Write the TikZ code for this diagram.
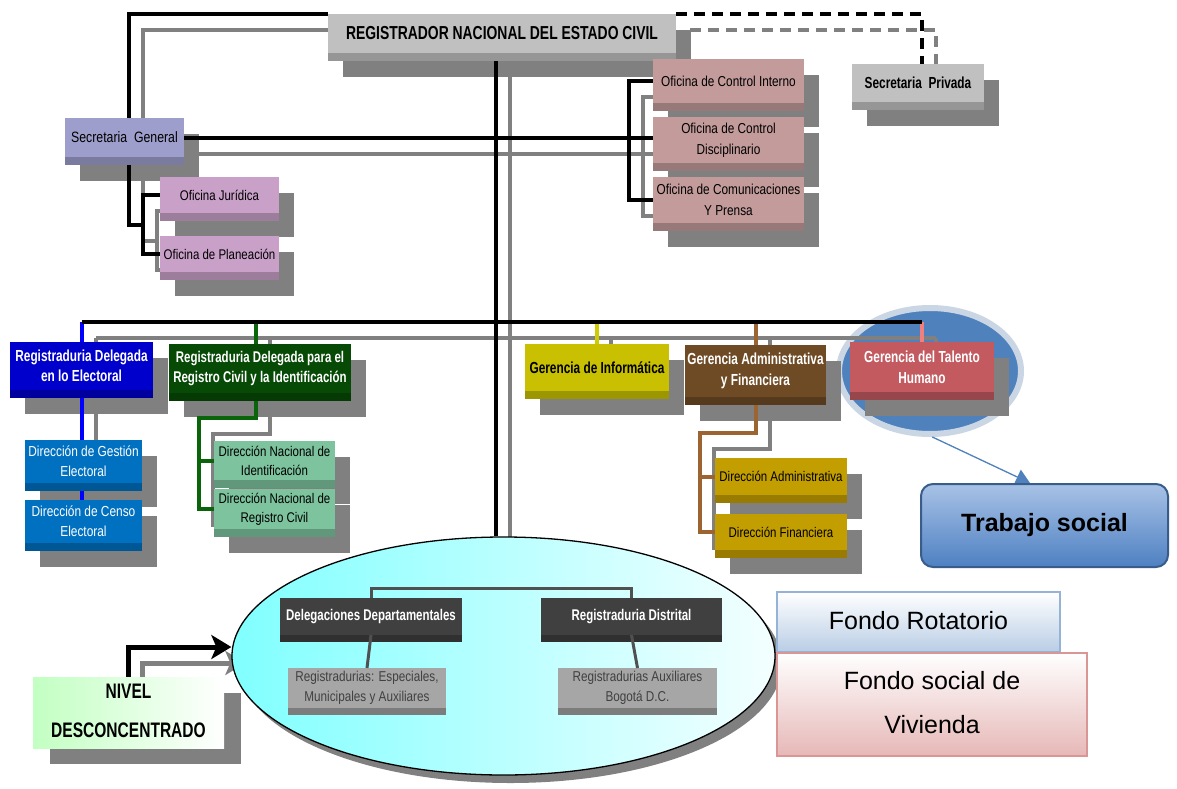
\documentclass[tikz,border=0pt]{standalone}
\usepackage{fontspec}
\setmainfont{Liberation Sans}
\newfontfamily\nr[FakeStretch=0.82]{Liberation Sans}
\newfontfamily\nb[FakeStretch=0.74]{Liberation Sans}
\usetikzlibrary{shapes.geometric,arrows.meta,calc}
\pgfdeclarelayer{back}\pgfdeclarelayer{bg}\pgfdeclarelayer{ell}\pgfdeclarelayer{mid}
\pgfsetlayers{back,bg,ell,mid,main}
\definecolor{shd}{HTML}{808080}
\definecolor{cReg}{HTML}{C0C0C0}
\definecolor{cSG}{HTML}{9E9ECC}
\definecolor{cOJ}{HTML}{C8A0C8}
\definecolor{cOC}{HTML}{C39B9B}
\definecolor{cRDE}{HTML}{0000CC}
\definecolor{cRDR}{HTML}{064A06}
\definecolor{cDGE}{HTML}{0070C0}
\definecolor{cDN}{HTML}{7CC39E}
\definecolor{cGI}{HTML}{C8C000}
\definecolor{cGAF}{HTML}{6E4A25}
\definecolor{cDA}{HTML}{C39E00}
\definecolor{cGTH}{HTML}{C25A60}
\definecolor{cDD}{HTML}{404040}
\definecolor{cRE}{HTML}{A6A6A6}
\definecolor{lBlue}{HTML}{0000FF}
\definecolor{lGreen}{HTML}{0A640A}
\definecolor{lYel}{HTML}{CCCC00}
\definecolor{lBrown}{HTML}{9C6430}
\definecolor{lPink}{HTML}{F08080}
\definecolor{thBlue}{HTML}{4F81BD}
\definecolor{thRing}{HTML}{CBD6E4}
\definecolor{tsTop}{HTML}{A8C2E6}
\definecolor{tsBot}{HTML}{4E80C2}
\definecolor{tsEdge}{HTML}{385D8A}
\definecolor{frEdge}{HTML}{95B3D7}
\definecolor{frBot}{HTML}{B9CDE5}
\definecolor{fvEdge}{HTML}{D99694}
\definecolor{fvBot}{HTML}{E6B8B7}
\definecolor{nivG}{HTML}{C2FFC2}
\definecolor{ellC}{HTML}{80FFFF}
\definecolor{ellM}{HTML}{B8FFFF}
\definecolor{ellW}{HTML}{F4FFFF}
\definecolor{inl}{HTML}{505050}
\newcommand\fsz[2]{\fontsize{#1}{#2}\selectfont}
\tikzset{
  box/.style={inner sep=0pt, outer sep=0pt, align=center, text=black},
  ln/.style={line width=4pt, draw=black},
  shl/.style={draw=shd},
  inner line/.style={line width=3pt, draw=inl},
}
% box with bevel and drop shadow
\newcommand\bx[8]{%
  \node[box, fill=#6, minimum width={(#4-#2)*1pt}, minimum height={(#5-#3)*1pt}, #7] (#1) at ({(#2+#4)/2},{(#3+#5)/2}) {#8};
  \fill[#6!78!black] (#1.south west) rectangle ([yshift=-8pt]#1.south east);
  \begin{pgfonlayer}{bg}\fill[shd,transform canvas={shift={(15pt,-16pt)}}] (#1.north west) rectangle ([yshift=-8pt]#1.south east);\end{pgfonlayer}}
% box with bevel, no shadow
\newcommand\bxn[8]{%
  \node[box, fill=#6, minimum width={(#4-#2)*1pt}, minimum height={(#5-#3)*1pt}, #7] (#1) at ({(#2+#4)/2},{(#3+#5)/2}) {#8};
  \fill[#6!75!black] (#1.south west) rectangle ([yshift=-7pt]#1.south east);}
% connector with gray shadow
\newcommand\cn[2][]{%
  \begin{pgfonlayer}{bg}\draw[ln,#1,shl,transform canvas={shift={(14pt,-16pt)}}] #2;\end{pgfonlayer}
  \begin{pgfonlayer}{mid}\draw[ln,#1] #2;\end{pgfonlayer}}
\begin{document}
\begin{tikzpicture}[x=1pt,y=-1pt]
\useasboundingbox (0,0) rectangle (1177,789);
\begin{pgfonlayer}{back}
\fill[white] (0,0) rectangle (1177,789);
\node[ellipse, fill=thBlue, draw=thRing, line width=6pt, minimum width=182pt, minimum height=126pt] (th) at (930,371) {};
\end{pgfonlayer}

% ---------- boxes ----------
\bx{reg}{328}{14}{676}{53}{cReg}{font=\nb\bfseries\fsz{18.8}{20}}{REGISTRADOR NACIONAL DEL ESTADO CIVIL}
\bx{sp}{852}{64}{984}{102}{cReg}{font=\nb\bfseries\fsz{16}{18}}{Secretaria\ \ Privada}
\bx{sg}{65}{118}{184}{157}{cSG}{font=\nr\fsz{15}{18}}{Secretaria\ \ General}
\bx{oj}{160}{177}{279}{213}{cOJ}{font=\nr\fsz{14}{18}}{Oficina Jurídica}
\bx{op}{160}{236}{279}{272}{cOJ}{font=\nr\fsz{14}{18}}{Oficina de Planeación}
\bx{oci}{653}{59}{804}{103}{cOC}{font=\nr\fsz{14.4}{20}}{Oficina de Control Interno}
\bx{ocd}{653}{117}{804}{163}{cOC}{font=\nr\fsz{14.4}{21}}{Oficina de Control\\Disciplinario}
\bx{ocp}{653}{177}{804}{223}{cOC}{font=\nr\fsz{14.4}{21}}{Oficina de Comunicaciones\\Y Prensa}
\bx{rde}{10}{342}{153}{390}{cRDE}{text=white,font=\nb\bfseries\fsz{16}{20}}{Registraduria Delegada\\en lo Electoral}
\bx{rdr}{169}{344}{351}{393}{cRDR}{text=white,font=\nb\bfseries\fsz{15.5}{20}}{Registraduria Delegada para el\\Registro Civil y la Identificación}
\bx{dge}{25}{440}{142}{483}{cDGE}{text=white,font=\nr\fsz{14.5}{20}}{Dirección de Gestión\\Electoral}
\bx{dce}{25}{500}{142}{543}{cDGE}{text=white,font=\nr\fsz{14.5}{20}}{Dirección de Censo\\Electoral}
\bx{dni}{214}{441}{335}{480}{cDN}{font=\nr\fsz{14}{19}}{Dirección Nacional de\\Identificación}
\bx{dnr}{214}{489}{335}{529}{cDN}{font=\nr\fsz{14}{19}}{Dirección Nacional de\\Registro Civil}
\bx{gi}{525}{344}{669}{391}{cGI}{font=\nb\bfseries\fsz{16}{20}}{Gerencia de Informática}
\bx{gaf}{685}{345}{826}{397}{cGAF}{text=white,font=\nb\bfseries\fsz{16}{21}}{Gerencia Administrativa\\y Financiera}
\bx{dad}{715}{458}{847}{495}{cDA}{font=\nr\fsz{14}{18}}{Dirección Administrativa}
\bx{dfi}{715}{514}{847}{550}{cDA}{font=\nr\fsz{14}{18}}{Dirección Financiera}
\bx{gth}{850}{342}{994}{392}{cGTH}{text=white,font=\nb\bfseries\fsz{16}{21}}{Gerencia del Talento\\Humano}

% ---------- big ellipse ----------
\begin{pgfonlayer}{ell}
\node[ellipse, draw=black, line width=1.3pt, left color=ellC, middle color=ellM, right color=ellW, minimum width=543pt, minimum height=238pt] (bigell) at (503.5,656) {};
\end{pgfonlayer}
\begin{pgfonlayer}{bg}
\fill[shd, transform canvas={shift={(7pt,-8pt)}}] (bigell.center) ellipse [x radius=271.5, y radius=119];
\end{pgfonlayer}
\bxn{dd}{280}{598}{462}{635}{cDD}{text=white,font=\nb\bfseries\fsz{15.5}{16}}{Delegaciones Departamentales}
\bxn{rdi}{541}{598}{722}{635}{cDD}{text=white,font=\nb\bfseries\fsz{15.5}{16}}{Registraduria Distrital}
\bxn{re}{288}{668}{446}{708}{cRE}{text=black!75,font=\nr\fsz{14.3}{20}}{Registradurias: Especiales,\\Municipales y Auxiliares}
\bxn{ra}{558}{668}{717}{708}{cRE}{text=black!75,font=\nr\fsz{14.3}{20}}{Registradurias Auxiliares\\Bogotá D.C.}
\draw[inner line] (dd.north) -- ++(0,-10) -| (rdi.north);
\draw[inner line] (dd.south) -- (re.north);
\draw[inner line] (rdi.south) -- (ra.north);

% ---------- NIVEL DESCONCENTRADO ----------
\node[box, left color=nivG, right color=white, minimum width=191pt, minimum height=71pt, font=\nb\bfseries\fsz{21}{39}] (niv) at (128.5,712.5) {\raisebox{4pt}{NIVEL}\\\raisebox{4pt}{DESCONCENTRADO}};
\begin{pgfonlayer}{bg}
\fill[shd, transform canvas={shift={(17pt,-16pt)}}] (niv.north west) rectangle (niv.south east);
\end{pgfonlayer}

% ---------- Trabajo social ----------
\node[rounded corners=12pt, draw=tsEdge, line width=2pt, top color=tsTop, bottom color=tsBot, minimum width=247pt, minimum height=83pt, font=\fsz{25}{30}\bfseries] (ts) at (1044.5,525.5) {Trabajo social};
\begin{pgfonlayer}{mid}
\draw[draw=thBlue, line width=1.3pt, -{Triangle[length=14pt,width=16pt]}] (th.-88) -- ([xshift=-14.5pt]ts.north);
\end{pgfonlayer}

% ---------- Fondos ----------
\node[draw=frEdge, line width=1.5pt, top color=white, bottom color=frBot, minimum width=283pt, minimum height=60pt, font=\fsz{25}{28}] (fr) at (918.5,622) {\raisebox{3pt}{Fondo Rotatorio}};
\node[draw=fvEdge, line width=2pt, top color=white, bottom color=fvBot, minimum width=310pt, minimum height=103pt, align=center, font=\fsz{25}{44}] (fv) at (932,704.5) {\raisebox{4pt}{Fondo social de}\\\raisebox{4pt}{Vivienda}};

% ---------- connectors ----------
\cn{(reg.north west) -| ([xshift=4.5pt]sg.north)}
\cn[dash pattern=on 11pt off 7pt]{(reg.north east) -| ([xshift=4pt]sp.north)}
\cn{([xshift=-6pt]reg.south) -- ([xshift=-6pt]reg.south |- bigell.north)}
\cn{(sg.east) -- (sg.east -| ocd.west)}
\cn{(oci.west) -- ++(-24,0) |- (ocp.west)}
\cn{(oj.west) -- ++(-17,0) |- (op.west)}
\cn{([xshift=4.5pt]sg.south) |- ($(oj.west)!.5!(op.west)+(-17,0)$)}

\coordinate (bar) at (496,322);
\cn[draw=lBlue]{(rde.north) -- (rde.north |- bar)}
\cn[draw=lGreen]{([xshift=-4pt]rdr.north) -- ([xshift=-4pt]rdr.north |- bar)}
\cn[draw=lYel]{(gi.north) -- (gi.north |- bar)}
\cn[draw=lBrown]{(gaf.north) -- (gaf.north |- bar)}
\cn[draw=lPink]{(gth.north) -- (gth.north |- bar)}
\cn{(rde.north |- bar) -- (gth.north |- bar)}

\cn[draw=lBlue]{(rde.south) -- (rde.south |- dce.north)}
\coordinate (gj) at (199,418);
\cn[draw=lGreen]{([xshift=-4pt]rdr.south) |- (gj) |- (dnr.west)}
\cn[draw=lGreen]{(gj |- dni.west) -- (dni.west)}
\coordinate (bj) at (700,433);
\cn[draw=lBrown]{(gaf.south) |- (bj) |- (dfi.west)}
\cn[draw=lBrown]{(bj |- dad.west) -- (dad.west)}

\cn[line width=5pt, -{Stealth[length=20pt,width=24pt,inset=5pt]}]{(niv.north) |- ([yshift=9pt]bigell.west)}
\end{tikzpicture}
\end{document}
